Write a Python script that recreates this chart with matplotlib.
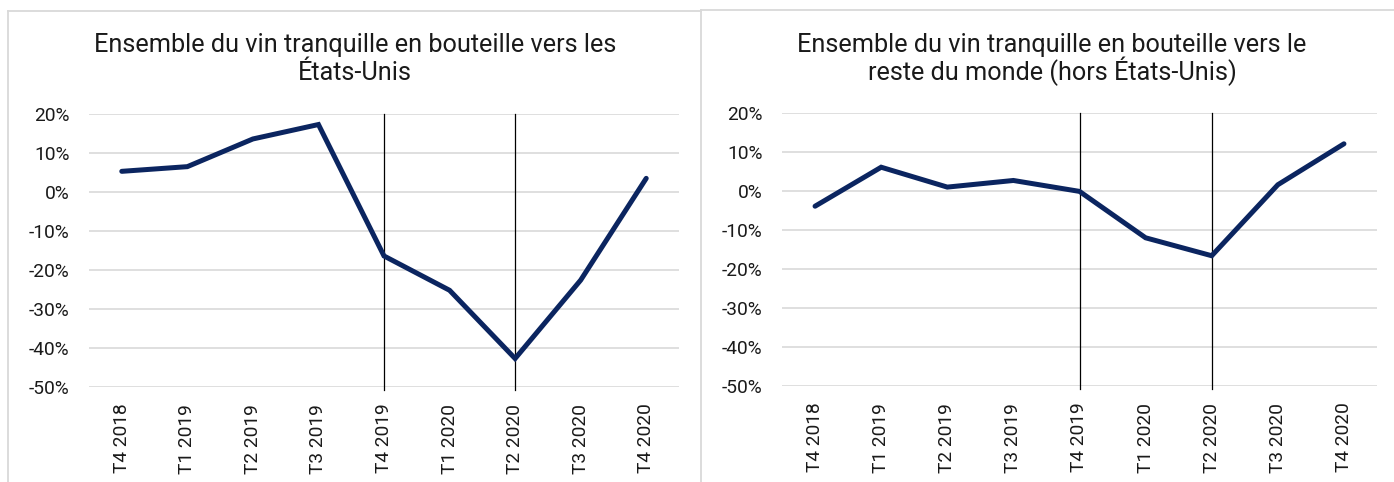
import matplotlib
matplotlib.use('Agg')
import matplotlib.pyplot as plt
from matplotlib.lines import Line2D
from matplotlib.ticker import FuncFormatter
import numpy as np

plt.rcParams['font.family'] = ['Roboto', 'DejaVu Sans']

quarters = ['T4 2018', 'T1 2019', 'T2 2019', 'T3 2019', 'T4 2019',
            'T1 2020', 'T2 2020', 'T3 2020', 'T4 2020']
usa = [5.3, 6.5, 13.6, 17.3, -16.4, -25.2, -42.7, -22.6, 3.5]
reste = [-3.9, 6.1, 1.0, 2.7, -0.1, -12.0, -16.6, 1.6, 12.1]
marks = ['T4 2019', 'T2 2020']
yticks = [20, 10, 0, -10, -20, -30, -40, -50]

title_usa = ['Ensemble du vin tranquille en bouteille vers les', 'États-Unis']
title_reste = ['Ensemble du vin tranquille en bouteille vers le',
               'reste du monde (hors États-Unis)']

W, H = 1394, 482
fig = plt.figure(figsize=(W / 100, H / 100), dpi=100)
navy = '#0b2560'
grid = '#d9d9d9'
txt = '#1a1a1a'


def px(x0, y0, x1, y1):
    # pixel box (top-left origin) -> figure fraction rect
    return [x0 / W, 1 - y1 / H, (x1 - x0) / W, (y1 - y0) / H]


def draw_chart(rect, values, title, tcx):
    ax = fig.add_axes(rect)
    x = np.arange(len(quarters))
    ax.set_xlim(-0.5, len(quarters) - 0.5)
    ax.set_ylim(-50, 20)
    ax.set_yticks(yticks)
    ax.yaxis.set_major_formatter(FuncFormatter(lambda v, p: '%d%%' % v))
    ax.grid(axis='y', color=grid, linewidth=1.2)
    ax.set_axisbelow(True)
    for s in ax.spines.values():
        s.set_visible(False)
    ax.set_xticks(x)
    ax.set_xticklabels(quarters, rotation=90)
    ax.tick_params(axis='both', length=0, labelsize=13.8, colors=txt)
    ax.tick_params(axis='y', pad=14)
    ax.tick_params(axis='x', pad=12)
    for m in marks:
        i = quarters.index(m)
        ax.plot([i, i], [-50.8, 20], color='black', lw=0.9, clip_on=False, zorder=3)
    ax.plot(x, values, color=navy, lw=3.6, solid_capstyle='round',
            solid_joinstyle='miter', zorder=4)
    fig.text(tcx / W, 1 - 52 / H, title[0], ha='center', va='baseline',
             fontsize=18.2, color=txt)
    fig.text(tcx / W, 1 - 80 / H, title[1], ha='center', va='baseline',
             fontsize=18.2, color=txt)
    return ax


draw_chart(px(89, 114, 679, 387), usa, title_usa, 355)
draw_chart(px(782, 113, 1377, 386), reste, title_reste, 1052)

# chart area borders
bc = '#d9d9d9'
for xs, ys in [([8, 8], [11, H]), ([8, 701], [11, 11]), ([701, 701], [10, H]),
               ([701, W], [10, 10])]:
    fig.add_artist(Line2D([v / W for v in xs], [1 - v / H for v in ys],
                          color=bc, lw=1.3))

plt.savefig('out.png', dpi=100)
